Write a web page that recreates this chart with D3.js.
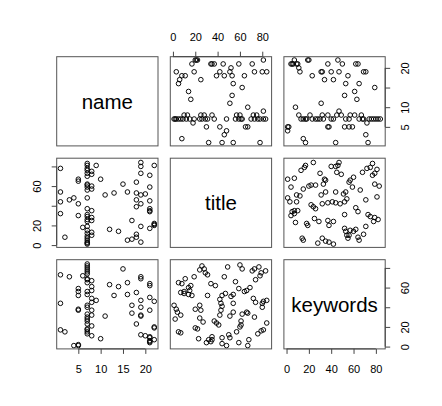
<!DOCTYPE html>
<html><head><meta charset="utf-8">
<script src="https://cdn.jsdelivr.net/npm/d3@7"></script>
<style>body{margin:0;background:#fff}</style>
</head><body>
<script>
// Variables shown on the diagonal
const varNames = ["name", "title", "keywords"];
const varRanges = [[1, 22], [1, 85], [1, 85]];

// Tick values and tick labels (R drops labels that would overlap)
const nameTicks = [5, 10, 15, 20];
const countTicks = [0, 20, 40, 60, 80];
const nameHorizLabels = ["5", "10", "15", "20"];
const countHorizLabels = ["0", "20", "40", "60", "80"];
const nameVertLabels = ["5", "10", "", "20"];
const countVertLabels = ["0", "20", "", "60", ""];

// Pair A: name vs title
const nameA = [1,1,1,1, 2, 3, 4, 5,5,5,5, 6,
  7,7,7,7,7,7,7,7,7,7,7,7,7,7,7,7,7,7,7,7,7,7,7,7,7,
  8,8,8,8,8,8,8,8,8,
  9, 10, 11, 12, 13, 14, 15, 16,16, 17,17, 18,18,18,18,18,18,
  19,19,19,19,19,19,19, 20, 21,21,21,21,21,21,21, 22,22,22,22];
const titleA = [32,44,54,78, 8, 46, 48, 30,42,65,67, 18,
  1,2,3,5,7,9,12,15,19,24,26,29,31,37,48,56,59,61,62,70,73,76,78,81,83,
  10,13,25,28,35,57,60,72,75,
  81, 67, 51, 16, 53, 14, 62, 5,54, 6,25, 8,11,39,46,53,64,
  3,19,42,51,73,80,84, 52, 17,34,35,37,45,59,71, 20,21,22,81];

// Pair B: name vs keywords
const nameB = [1,1,1, 2, 3, 4, 5,5,5,5,5,5,5, 6,
  7,7,7,7,7,7,7,7,7,7,7,7,7,7,7,7,7,7,7,7,7,7,
  8,8,8,8,8,8,8,8,8,
  9, 10, 11, 12, 13, 14, 15, 16,16, 17,17, 18,18,
  19,19,19,19,19,19,19, 20, 21,21,21,21,21,21,21,21,21, 22,22,22,22];
const keywordsB = [17,44,73, 15, 71, 1, 1,2,37,38,52,56,59, 72,
  13,15,17,18,23,26,28,30,33,40,42,53,56,65,68,69,74,76,78,80,82,84,
  11,21,32,37,45,49,57,61,67,
  47, 8, 31, 63, 52, 61, 79, 53,65, 34,42, 23,55,
  12,31,32,40,47,69,71, 11, 4,5,6,9,10,37,50,62,64, 7,19,20,46];

// Pair C: title vs keywords
const titleC = [67,68,59,48,51,50,57,60,61,61,62,67,66,73,76,81,79,84,80,80,84,81,72,74,64,66,69,74,78,79,83,71,73,77,62,60,
  44,44,35,34,30,35,32,23,22,20,41,39,37,42,43,44,43,42,44,51,54,54,52,54,47,59,56,46,49,38,34,31,27,24,25,24,20,31,29,28,26,24,19,
  17,14,10,7,15,14,16,8,5,11,7,5,2,7,4,3,10,1];
const keywordsC = [1,7,4,1,9,12,15,20,22,26,33,34,35,30,13,17,16,24,40,44,47,46,49,45,56,57,60,68,72,75,77,77,79,81,79,83,
  3,9,7,5,4,10,7,8,18,19,22,24,26,32,37,41,44,48,52,31,35,44,51,53,54,59,66,71,81,62,64,52,25,29,37,42,38,73,75,79,82,78,71,
  52,53,54,55,57,60,62,64,65,69,14,15,28,32,35,38,56,42];

const pairs = [
  {a: 0, b: 1, va: nameA, vb: titleA},
  {a: 0, b: 2, va: nameB, vb: keywordsB},
  {a: 1, b: 2, va: titleC, vb: keywordsC}
];

const W = 442, H = 406;
const marginLeft = 56.7, marginTop = 56.7, gap = 12.3;
const pw = 101.3, ph = 89.2;
const font = "'Liberation Sans', Arial, Helvetica, sans-serif";

const svg = d3.select("body").append("svg").attr("width", W).attr("height", H)
  .style("font-family", font);

function padded(r) { const d = (r[1] - r[0]) * 0.04; return [r[0] - d, r[1] + d]; }
const xS = varRanges.map(r => d3.scaleLinear().domain(padded(r)).range([0, pw]));
const yS = varRanges.map(r => d3.scaleLinear().domain(padded(r)).range([ph, 0]));

const px = j => marginLeft + j * (pw + gap);
const py = i => marginTop + i * (ph + gap);

const panels = [];
for (let i = 0; i < 3; i++) for (let j = 0; j < 3; j++) {
  const g = svg.append("g").attr("transform", `translate(${px(j)},${py(i)})`);
  panels.push({i, j, g});
}
const panel = (i, j) => panels.find(p => p.i === i && p.j === j).g;

// diagonal labels
for (let k = 0; k < 3; k++) {
  panel(k, k).append("text").attr("x", pw / 2).attr("y", ph / 2)
    .attr("text-anchor", "middle").attr("dominant-baseline", "central")
    .style("font-size", "20.5px").attr("fill", "#000").text(varNames[k]);
}

// points
function drawPoints(g, xs, ys, xv, yv) {
  g.selectAll("circle.pt").data(d3.range(xv.length)).join("circle")
    .attr("class", "pt")
    .attr("cx", d => xs(xv[d])).attr("cy", d => ys(yv[d]))
    .attr("r", 2.3).attr("fill", "none").attr("stroke", "#000").attr("stroke-width", 0.95);
}
pairs.forEach(p => {
  drawPoints(panel(p.a, p.b), xS[p.b], yS[p.a], p.vb, p.va);
  drawPoints(panel(p.b, p.a), xS[p.a], yS[p.b], p.va, p.vb);
});

// boxes
panels.forEach(p => p.g.append("rect").attr("x", 0).attr("y", 0).attr("width", pw).attr("height", ph)
  .attr("fill", "none").attr("stroke", "#555").attr("stroke-width", 1));

// axes
function styleAxis(sel) {
  sel.selectAll("line").attr("stroke", "#444");
  sel.select(".domain").attr("stroke", "#444");
  sel.selectAll("text").style("font-size", "11px").attr("fill", "#000").style("font-family", font);
}
function horizAxis(g, scale, ticks, labels, side) {
  const ax = (side === "top" ? d3.axisTop(scale) : d3.axisBottom(scale))
    .tickValues(ticks).tickFormat((d, i) => labels[i]).tickSize(5).tickPadding(11).tickSizeOuter(0);
  const a = g.append("g").attr("transform", side === "top" ? "translate(0,0)" : `translate(0,${ph})`).call(ax);
  a.select(".domain").attr("d", `M${scale(ticks[0])},0H${scale(ticks[ticks.length - 1])}`);
  styleAxis(a);
}
function vertAxis(g, scale, ticks, labels, side) {
  const ax = (side === "left" ? d3.axisLeft(scale) : d3.axisRight(scale))
    .tickValues(ticks).tickFormat((d, i) => labels[i]).tickSize(5).tickSizeOuter(0);
  const a = g.append("g").attr("transform", side === "left" ? "translate(0,0)" : `translate(${pw},0)`).call(ax);
  a.select(".domain").attr("d", `M0,${scale(ticks[0])}V${scale(ticks[ticks.length - 1])}`);
  const off = side === "left" ? -20 : 20;
  a.selectAll(".tick text").attr("x", null).attr("dy", null)
    .attr("transform", `translate(${off},0) rotate(-90)`)
    .attr("text-anchor", "middle").attr("dominant-baseline", "central");
  styleAxis(a);
}
horizAxis(panel(0, 1), xS[1], countTicks, countHorizLabels, "top");
horizAxis(panel(2, 0), xS[0], nameTicks, nameHorizLabels, "bottom");
horizAxis(panel(2, 2), xS[2], countTicks, countHorizLabels, "bottom");
vertAxis(panel(1, 0), yS[1], countTicks, countVertLabels, "left");
vertAxis(panel(0, 2), yS[0], nameTicks, nameVertLabels, "right");
vertAxis(panel(2, 2), yS[2], countTicks, countVertLabels, "right");
</script>
</body></html>
